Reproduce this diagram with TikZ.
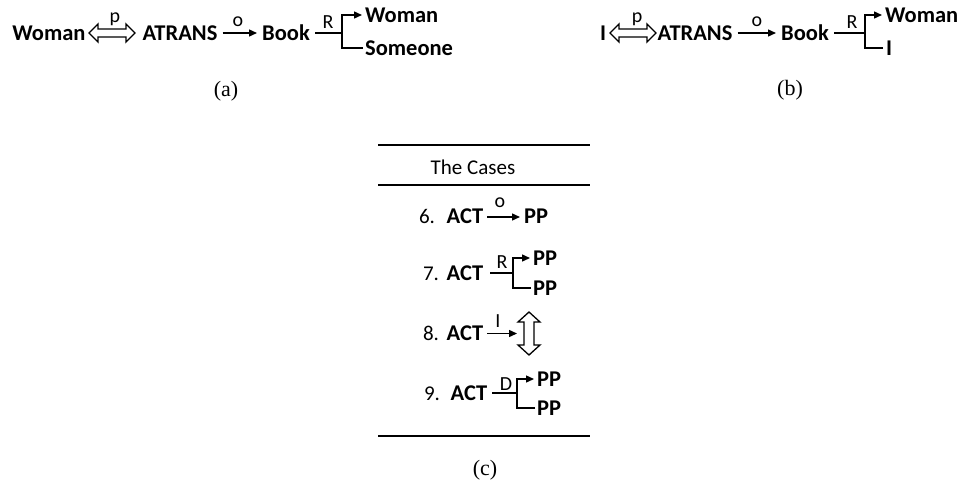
\documentclass[tikz,border=0pt]{standalone}
\usepackage{fontspec}
\setmainfont{Liberation Serif}
\newfontfamily\calib{Carlito}
\usetikzlibrary{arrows.meta}
\begin{document}
\begin{tikzpicture}[x=1pt,y=-1pt,
  lbl/.style={font=\calib\bfseries\fontsize{22.5}{26}\selectfont, inner sep=0pt, anchor=base},
  reg/.style={font=\calib\fontsize{21}{25}\selectfont, inner sep=0pt, anchor=base},
  tag/.style={font=\calib\fontsize{20}{23}\selectfont, inner sep=0pt, anchor=base},
  captxt/.style={font=\fontsize{22}{26}\selectfont, inner sep=0pt},
  conn/.style={line width=1.4pt},
  arr/.style={conn, -{Triangle[length=8pt,width=7pt]}},
  rulel/.style={line width=1.2pt},
  hdbl/.pic={
    \draw[line width=1.3pt, line join=miter] (-23,0) -- (-14,-9) -- (-14,-4) -- (14,-4) -- (14,-9) -- (23,0) -- (14,9) -- (14,4) -- (-14,4) -- (-14,9) -- cycle;
    \coordinate (-w) at (-23,0); \coordinate (-e) at (23,0);
  },
  vdbl/.pic={
    \draw[line width=1.3pt, line join=miter] (0,-21.5) -- (11,-11.5) -- (5,-11.5) -- (5,11.5) -- (11,11.5) -- (0,21.5) -- (-11,11.5) -- (-5,11.5) -- (-5,-11.5) -- (-11,-11.5) -- cycle;
    \coordinate (-w) at (-11,0);
  },
]
\useasboundingbox (0,0) rectangle (964,482);

% ---------- (a) ----------
\node[lbl] (w1) at (49,40) {Woman};
\pic (da1) at (112,33) {hdbl};
\node[tag] (p1) at (115,22) {p};
\node[lbl] (at1) at (180,40) {ATRANS};
\node[lbl] (bk1) at (286,40) {Book};
\draw[arr] ([xshift=5pt]at1.east |- da1-w) -- ([xshift=-5pt]bk1.west |- da1-w);
\node[tag] (o1) at (238,26) {o};
\coordinate (j1) at (342,33);
\coordinate (j1t) at (342,15);
\coordinate (j1b) at (342,48);
\draw[conn] ([xshift=5pt]bk1.east |- j1) -- (j1);
\node[tag] (r1) at (328,28) {R};
\node[lbl, anchor=base west] (w2) at (365,22) {Woman};
\node[lbl, anchor=base west] (s1) at (365,55) {Someone};
\draw[arr] ([xshift=-2pt]s1.west |- j1b) -- (j1b) -- (j1t) -- ([xshift=-3pt]w2.west |- j1t);
\node[captxt] (ca) at (226,91) {(a)};

% ---------- (b) ----------
\node[lbl] (i1) at (603,40) {I};
\pic (da2) at (633,33) {hdbl};
\node[tag] (p2) at (637,22) {p};
\node[lbl] (at2) at (695,40) {ATRANS};
\node[lbl] (bk2) at (805,40) {Book};
\draw[arr] ([xshift=5pt]at2.east |- da2-w) -- ([xshift=-5pt]bk2.west |- da2-w);
\node[tag] (o2) at (757,26) {o};
\coordinate (j2) at (865,33);
\coordinate (j2t) at (865,15);
\coordinate (j2b) at (865,48);
\draw[conn] ([xshift=5pt]bk2.east |- j2) -- (j2);
\node[tag] (r2) at (852,28) {R};
\node[lbl, anchor=base west] (w3) at (885,22) {Woman};
\node[lbl, anchor=base west] (i2) at (886,55) {I};
\draw[arr] ([xshift=-3pt]i2.west |- j2b) -- (j2b) -- (j2t) -- ([xshift=-3pt]w3.west |- j2t);
\node[captxt] (cb) at (790,90) {(b)};

% ---------- (c) ----------
\coordinate (t1l) at (378,145); \coordinate (t1r) at (590,145);
\coordinate (t2l) at (378,185); \coordinate (t2r) at (590,185);
\coordinate (t3l) at (378,436); \coordinate (t3r) at (590,436);
\draw[rulel] (t1l) -- (t1r);
\draw[rulel] (t2l) -- (t2r);
\draw[rulel] (t3l) -- (t3r);
\node[reg] (hd) at (473,174) {The Cases};

% row 6
\node[reg] (n6) at (427,223) {6.};
\node[lbl] (a6) at (465,223) {ACT};
\node[lbl, anchor=base west] (pp6) at (524,223) {PP};
\coordinate (y6) at (0,217);
\draw[arr] ([xshift=4pt]a6.east |- y6) -- ([xshift=-4pt]pp6.west |- y6);
\node[tag] (o6) at (500,207) {o};

% row 7
\node[reg] (n7) at (431,280) {7.};
\node[lbl] (a7) at (465,280) {ACT};
\coordinate (j7) at (513,273);
\coordinate (j7t) at (513,258);
\coordinate (j7b) at (513,288);
\draw[conn] ([xshift=7pt]a7.east |- j7) -- (j7);
\node[tag] (r7) at (502,268) {R};
\node[lbl, anchor=base west] (pp7a) at (533,265) {PP};
\node[lbl, anchor=base west] (pp7b) at (533,295) {PP};
\draw[arr] ([xshift=-2pt]pp7b.west |- j7b) -- (j7b) -- (j7t) -- ([xshift=-3pt]pp7a.west |- j7t);

% row 8
\node[reg] (n8) at (431,340) {8.};
\node[lbl] (a8) at (465,340) {ACT};
\pic (da8) at (529,333.5) {vdbl};
\draw[arr] ([xshift=4pt]a8.east |- da8-w) -- ([xshift=-1pt]da8-w);
\node[tag] (i8) at (498,327) {I};

% row 9
\node[reg] (n9) at (432,400) {9.};
\node[lbl] (a9) at (469,400) {ACT};
\coordinate (j9) at (517,393);
\coordinate (j9t) at (517,379);
\coordinate (j9b) at (517,408);
\draw[conn] ([xshift=5pt]a9.east |- j9) -- (j9);
\node[tag] (d9) at (506,390) {D};
\node[lbl, anchor=base west] (pp9a) at (537,386) {PP};
\node[lbl, anchor=base west] (pp9b) at (537,415) {PP};
\draw[arr] ([xshift=-2pt]pp9b.west |- j9b) -- (j9b) -- (j9t) -- ([xshift=-3pt]pp9a.west |- j9t);

\node[captxt] (cc) at (485,470) {(c)};
\end{tikzpicture}
\end{document}
